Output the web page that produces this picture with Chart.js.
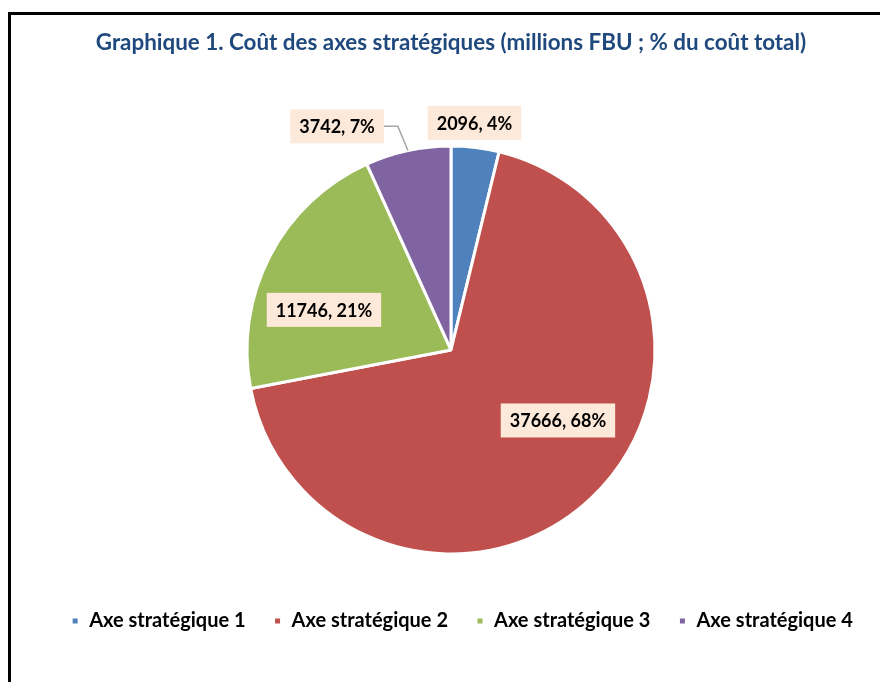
<!DOCTYPE html>
<html>
<head>
<meta charset="utf-8">
<script src="https://cdn.jsdelivr.net/npm/chart.js@4.4.0/dist/chart.umd.min.js"></script>
<style>
  html, body { margin: 0; padding: 0; background: #fff; }
  #wrap { position: relative; width: 880px; height: 682px; overflow: hidden; }
  #frame { position: absolute; left: 8px; top: 12px; width: 900px; height: 700px; border: 3px solid #000; }
  #c { position: absolute; left: 0; top: 0; }
</style>
</head>
<body>
<div id="wrap">
  <div id="frame"></div>
  <canvas id="c" width="880" height="682"></canvas>
</div>
<script>
// Données du graphique
const categories = ['Axe stratégique 1', 'Axe stratégique 2', 'Axe stratégique 3', 'Axe stratégique 4'];
const couts = [2096, 37666, 11746, 3742];
const couleurs = ['#4F81BD', '#C0504D', '#9BBB59', '#8064A2'];

// Position des étiquettes (angle en degrés depuis le haut, rayon relatif)
const labelAngles = [5.9, 123.4, -72.5, -27];
const labelRadii = [1.119, 0.628, 0.653, 1.23];

const total = couts.reduce((a, b) => a + b, 0);

// Plugin pour dessiner les étiquettes avec fond
const etiquettes = {
  id: 'etiquettes',
  afterLayout(chart) {
    // décaler un peu la légende vers la droite, comme dans l'original
    chart.legend.left += 11;
    chart.legend.right += 11;
  },
  afterDatasetsDraw(chart) {
    const ctx = chart.ctx;
    const arcs = chart.getDatasetMeta(0).data;
    ctx.save();
    ctx.font = 'bold 18px Lato';
    ctx.textAlign = 'center';
    ctx.textBaseline = 'middle';
    arcs.forEach((arc, i) => {
      const R = arc.outerRadius;
      const a = labelAngles[i] * Math.PI / 180;
      const cx = arc.x + R * labelRadii[i] * Math.sin(a);
      const cy = arc.y - R * labelRadii[i] * Math.cos(a);
      const txt = couts[i] + ', ' + Math.round(couts[i] / total * 100) + '%';
      const w = ctx.measureText(txt).width + 18;
      const h = 34;

      // ligne de rappel pour les étiquettes déplacées
      if (labelRadii[i] > 1.2) {
        const mid = (arc.startAngle + arc.endAngle) / 2;
        const px = arc.x + R * Math.cos(mid);
        const py = arc.y + R * Math.sin(mid);
        ctx.strokeStyle = '#A6A6A6';
        ctx.lineWidth = 1.5;
        ctx.beginPath();
        ctx.moveTo(cx + w / 2, cy);
        ctx.lineTo(cx + w / 2 + 14, cy);
        ctx.lineTo(px, py);
        ctx.stroke();
      }

      ctx.fillStyle = '#FDE9D9';
      ctx.fillRect(cx - w / 2, cy - h / 2, w, h);
      ctx.fillStyle = '#000';
      ctx.fillText(txt, cx, cy + 1);
    });
    ctx.restore();
  }
};

new Chart(document.getElementById('c'), {
  type: 'pie',
  data: {
    labels: categories,
    datasets: [{
      data: couts,
      backgroundColor: couleurs,
      borderColor: '#fff',
      borderWidth: 3
    }]
  },
  options: {
    responsive: false,
    animation: false,
    radius: 204,
    layout: { padding: { left: 22, right: 0, top: 0, bottom: 41 } },
    plugins: {
      title: {
        display: true,
        text: 'Graphique 1. Coût des axes stratégiques (millions FBU ; % du coût total)',
        color: '#1F497D',
        font: { family: 'Lato', size: 22.4, weight: 'bold' },
        padding: { top: 29, bottom: 61 }
      },
      legend: {
        position: 'bottom',
        labels: {
          color: '#000',
          font: { family: 'Lato', size: 20, weight: 'bold' },
          boxWidth: 8,
          boxHeight: 8,
          padding: 28
        }
      },
      tooltip: { enabled: false }
    }
  },
  plugins: [etiquettes]
});
</script>
</body>
</html>
